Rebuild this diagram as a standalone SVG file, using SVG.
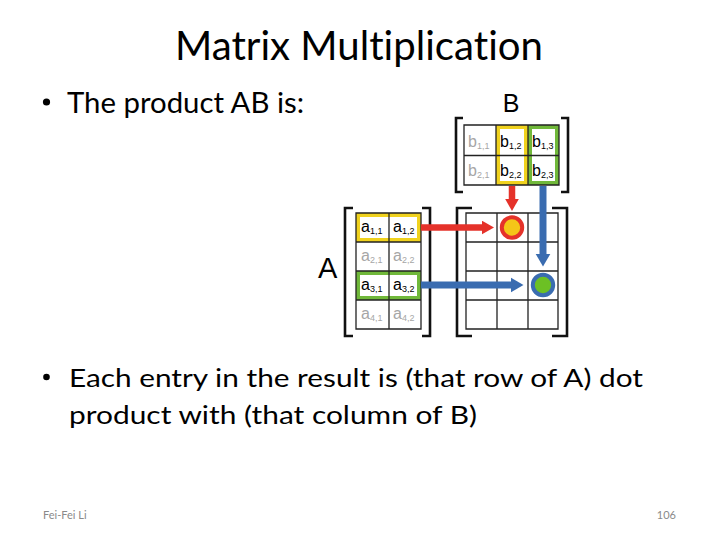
<svg xmlns="http://www.w3.org/2000/svg" width="720" height="540" viewBox="0 0 720 540">
<style>
.title{font-family:Lato,"Open Sans","Liberation Sans",sans-serif;font-size:40px;fill:#000;font-variant-ligatures:none}
.body{font-family:Lato,"Open Sans","Liberation Sans",sans-serif;fill:#000;font-variant-ligatures:none}
.foot{font-family:Lato,"Open Sans","Liberation Sans",sans-serif;font-size:11px;fill:#8a8a8a}
.lbl{font-family:"Liberation Sans",Arial,sans-serif;fill:#000}
.cell{font-family:"Liberation Sans",Arial,sans-serif;font-size:16px}
.sub{font-size:9px}
.g{fill:#a6a6a6}
.k{fill:#000}
.grid{fill:none;stroke:#222;stroke-width:1.3}
.brk{fill:none;stroke:#111;stroke-width:2.6}
.hy{fill:none;stroke:#F0D21E;stroke-width:4}
.hg{fill:none;stroke:#70B83A;stroke-width:4}
.ar{stroke:#E5322A;stroke-width:6.5;fill:none}
.ab{stroke:#3A6CB0;stroke-width:7;fill:none}
</style>
<defs>
<marker id="mr" markerUnits="userSpaceOnUse" markerWidth="14" markerHeight="14" viewBox="0 -7 14 14" refX="0" refY="0" orient="auto"><path d="M0,-6.8 L12,0 L0,6.8 Z" fill="#E5322A"/></marker>
<marker id="mb" markerUnits="userSpaceOnUse" markerWidth="14" markerHeight="16" viewBox="0 -8 14 16" refX="0" refY="0" orient="auto"><path d="M0,-7.3 L12.5,0 L0,7.3 Z" fill="#3A6CB0"/></marker>
</defs>
<rect width="720" height="540" fill="#fff"/>
<g id="title"><text class="title" x="175" y="59.5" textLength="368" lengthAdjust="spacingAndGlyphs">Matrix Multiplication</text></g>
<g id="bullet1"><circle cx="46.5" cy="102" r="3.6" fill="#000"/><text class="body" font-size="28.5" x="67" y="113" textLength="237" lengthAdjust="spacingAndGlyphs">The product AB is:</text></g>
<g id="bullet2"><circle cx="46.5" cy="377" r="3.3" fill="#000"/><text class="body" font-size="25.5" x="69" y="386.5" textLength="574" lengthAdjust="spacingAndGlyphs">Each entry in the result is (that row of A) dot</text><text class="body" font-size="25.5" x="69" y="423.5" textLength="408" lengthAdjust="spacingAndGlyphs">product with (that column of B)</text></g>
<g id="footer"><text class="foot" x="43" y="518.5">Fei-Fei Li</text><text class="foot" x="676" y="518.5" text-anchor="end">106</text></g>
<g id="matrixB">
<text class="lbl" font-size="25" x="511" y="112" text-anchor="middle">B</text>
<rect class="hy" x="498" y="127" width="28" height="56"/>
<rect class="hg" x="530" y="127" width="27" height="56"/>
<path class="grid" d="M464,125 H559 V185 H464 Z M496,125 V185 M528,125 V185 M464,155.5 H559"/>
<path class="brk" d="M463,118 H456 V192 H463 M561,118 H568 V192 H561"/>
<text class="cell g" x="468" y="147">b<tspan class="sub" dy="2">1,1</tspan></text>
<text class="cell k" x="500" y="147">b<tspan class="sub" dy="2">1,2</tspan></text>
<text class="cell k" x="532" y="147">b<tspan class="sub" dy="2">1,3</tspan></text>
<text class="cell g" x="468" y="176">b<tspan class="sub" dy="2">2,1</tspan></text>
<text class="cell k" x="500" y="176">b<tspan class="sub" dy="2">2,2</tspan></text>
<text class="cell k" x="532" y="176">b<tspan class="sub" dy="2">2,3</tspan></text>
</g>
<g id="matrixA">
<text class="lbl" font-size="29" x="318" y="278">A</text>
<rect class="hy" x="358" y="215" width="61" height="25"/>
<rect class="hg" x="358" y="273" width="61" height="25"/>
<path class="grid" d="M356,213 H421 V329 H356 Z M389,213 V329 M356,242 H421 M356,271 H421 M356,300 H421"/>
<path class="brk" d="M353,208 H345 V336 H353 M422,208 H430 V336 H422"/>
<text class="cell k" x="361" y="232">a<tspan class="sub" dy="2">1,1</tspan></text>
<text class="cell k" x="393" y="232">a<tspan class="sub" dy="2">1,2</tspan></text>
<text class="cell g" x="361" y="261">a<tspan class="sub" dy="2">2,1</tspan></text>
<text class="cell g" x="393" y="261">a<tspan class="sub" dy="2">2,2</tspan></text>
<text class="cell k" x="361" y="290">a<tspan class="sub" dy="2">3,1</tspan></text>
<text class="cell k" x="393" y="290">a<tspan class="sub" dy="2">3,2</tspan></text>
<text class="cell g" x="361" y="319">a<tspan class="sub" dy="2">4,1</tspan></text>
<text class="cell g" x="393" y="319">a<tspan class="sub" dy="2">4,2</tspan></text>
</g>
<g id="matrixC">
<path class="grid" d="M466,213 H558 V329 H466 Z M497,213 V329 M528,213 V329 M466,242 H558 M466,271 H558 M466,300 H558"/>
<path class="brk" d="M472,208 H457 V336 H472 M552,208 H567 V336 H552"/>
</g>
<g id="connectors">
<path class="ar" d="M512,186 V199" marker-end="url(#mr)"/>
<path class="ar" d="M421,227.5 H482" marker-end="url(#mr)"/>
<path class="ab" d="M543,186 V254" marker-end="url(#mb)"/>
<path class="ab" d="M421,285 H511" marker-end="url(#mb)"/>
</g>
<g id="results">
<circle cx="512" cy="227.5" r="10.2" fill="#F5C518" stroke="#E5322A" stroke-width="4"/>
<circle cx="543" cy="285" r="10.2" fill="#6CC024" stroke="#3A6CB0" stroke-width="4"/>
</g>
</svg>
